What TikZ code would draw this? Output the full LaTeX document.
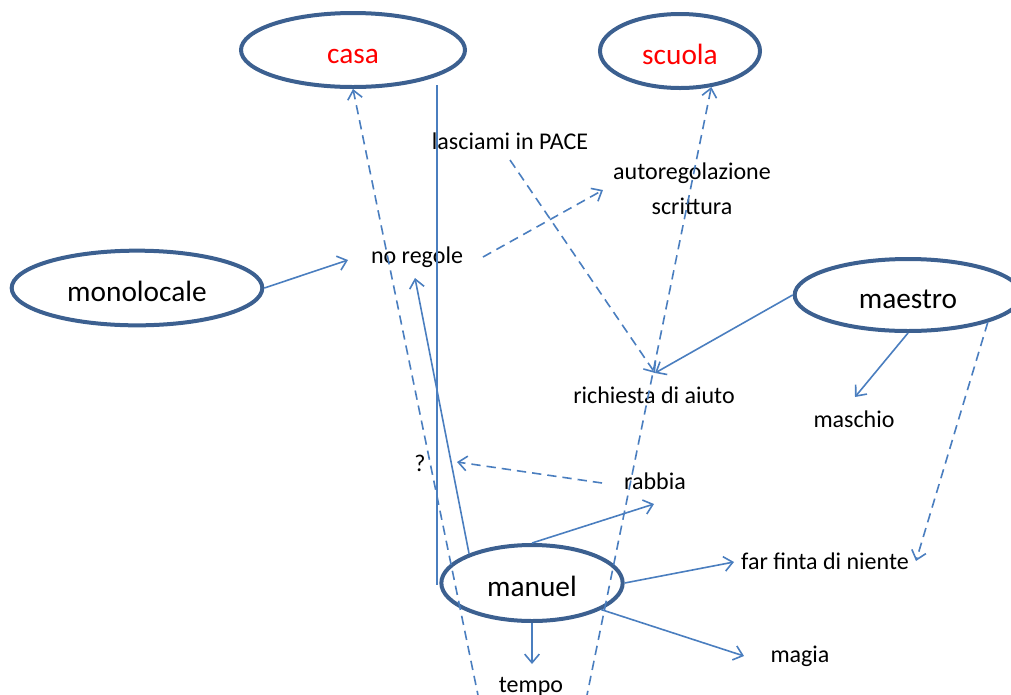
\documentclass[tikz,border=0pt]{standalone}
\usepackage{fontspec}
\setmainfont{Carlito}
\usetikzlibrary{arrows.meta,shapes.geometric}
\definecolor{ellblue}{HTML}{3C6090}
\definecolor{linkblue}{HTML}{4A7EBF}
\tikzset{
  oval/.style={ellipse, draw=ellblue, line width=3pt, inner sep=0pt, text height=20pt, text depth=0pt, font=\fontsize{22pt}{24pt}\selectfont},
  lbl/.style={font=\fontsize{18pt}{26pt}\selectfont, inner sep=0pt, align=center},
  link/.style={draw=linkblue, line width=1.2pt},
  arr/.style={link, -{Straight Barb[length=6.5pt,width=11pt,line width=1.2pt]}},
  darr/.style={arr, dash pattern=on 7pt off 4.5pt},
}
\begin{document}
\begin{tikzpicture}[x=0.75pt,y=-0.75pt]
\useasboundingbox (0,0) rectangle (1011,694);
\clip (0,0) rectangle (1011,694);
% ellipses
\node[oval, minimum width=168pt, minimum height=55.5pt, text=red] (casa) at (353,50) {casa};
\node[oval, minimum width=120pt, minimum height=55.5pt, text=red] (scuola) at (680,51) {scuola};
\node[oval, minimum width=188pt, minimum height=56pt] (monolocale) at (137,288) {monolocale};
\node[oval, minimum width=170pt, minimum height=54pt] (maestro) at (908,295) {maestro};
\node[oval, minimum width=136pt, minimum height=57pt] (manuel) at (532,583) {manuel};
% text nodes
\node[lbl] (pace) at (510,141) {lasciami in PACE};
\node[lbl] (auto) at (692,189) {autoregolazione\\scrittura};
\node[lbl] (noreg) at (417,257) {no regole};
\node[lbl] (rich) at (654,395) {richiesta di aiuto};
\node[lbl] (masch) at (854,419) {maschio};
\node[lbl] (q) at (420,463) {?};
\node[lbl] (rabbia) at (655,481) {rabbia};
\node[lbl] (finta) at (825,561) {far finta di niente};
\node[lbl] (magia) at (800,656) {magia};
\node[lbl] (tempo) at (531,687) {tempo};
% coordinates for free connector ends
\coordinate (lowL) at (479,700);
\coordinate (lowR) at (586,700);
\coordinate (vTop) at (437,85);
\coordinate (vBot) at (437,585);
\coordinate (paceOut) at (510,160);
\coordinate (richIn) at (655,373);
\coordinate (autoIn) at (603,190);
\coordinate (noregOut) at (483,257);
\coordinate (noregIn) at (348,260);
\coordinate (noregUp) at (415,278);
\coordinate (rabbOut) at (602,483);
\coordinate (qIn) at (457,462);
\coordinate (rabbIn) at (654,504);
\coordinate (fintaIn) at (734,562);
\coordinate (fintaD) at (916,561);
\coordinate (maschIn) at (855,397);
\coordinate (magiaIn) at (744,656);
\coordinate (tempoIn) at (532,664);
% connectors
\draw[darr] (lowL) -- (casa.south);
\draw[darr] (lowR) -- (scuola.-49);
\draw[link] (vTop) -- (vBot);
\draw[darr] (paceOut) -- (richIn);
\draw[darr] (noregOut) -- (autoIn);
\draw[arr] (monolocale.east) -- (noregIn);
\draw[arr] (maestro.west) -- (richIn);
\draw[arr] (maestro.south) -- (maschIn);
\draw[darr] (maestro.-19) -- (fintaD);
\draw[arr] (manuel.155) -- (noregUp);
\draw[darr] (rabbOut) -- (qIn);
\draw[arr] (manuel.north) -- (rabbIn);
\draw[arr] (manuel.east) -- (fintaIn);
\draw[arr] (manuel.-21) -- (magiaIn);
\draw[arr] (manuel.south) -- (tempoIn);
\end{tikzpicture}
\end{document}
